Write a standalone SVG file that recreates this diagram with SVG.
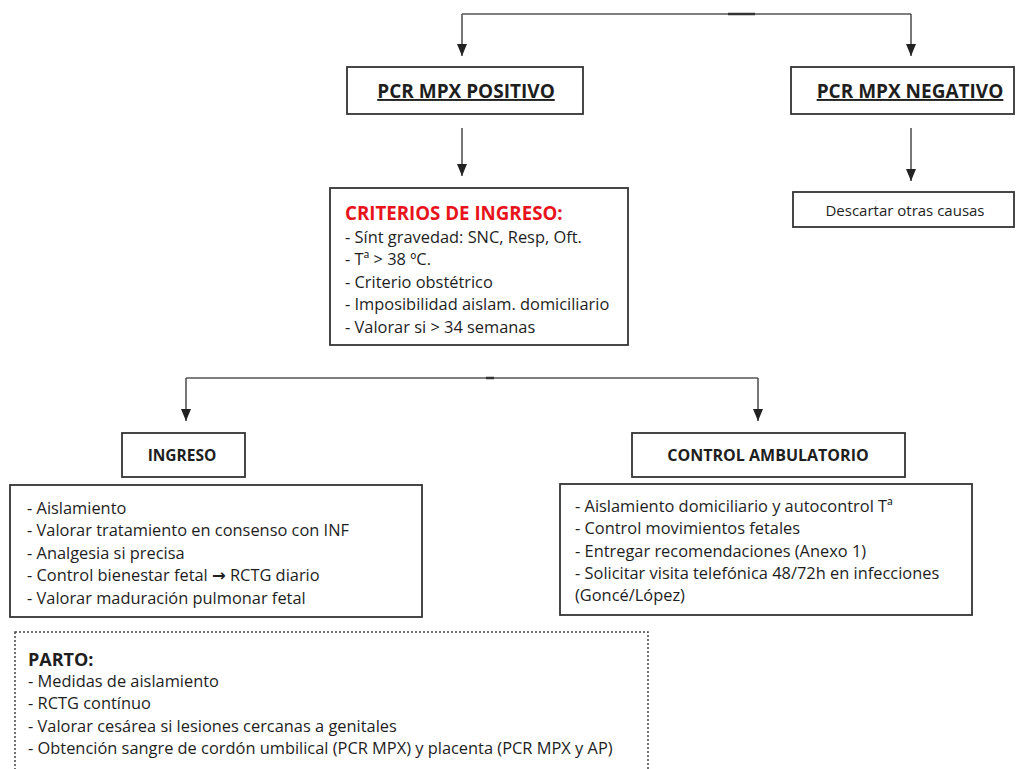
<svg xmlns="http://www.w3.org/2000/svg" width="1019" height="769" viewBox="0 0 1019 769">
<defs>
<marker id="arr" markerWidth="12" markerHeight="10" refX="12" refY="5" orient="auto" markerUnits="userSpaceOnUse" viewBox="0 0 12 10">
<path d="M0,0 L12,5 L0,10 Z" fill="#222"/>
</marker>
<style>
.box{fill:#fff;stroke:#333;stroke-width:1.8}
.dot{fill:#fff;stroke:#444;stroke-width:1.5;stroke-dasharray:2 2}
.ln{fill:none;stroke:#555;stroke-width:1.6}
.t{font-family:"Open Sans","Liberation Sans",sans-serif;font-size:16.4px;fill:#1e1e1e}
.h{font-family:"Open Sans","Liberation Sans",sans-serif;font-size:19px;font-weight:bold;fill:#1e1e1e}
.red{font-family:"Open Sans","Liberation Sans",sans-serif;font-size:18.7px;font-weight:bold;fill:#e8141c}
</style>
</defs>
<rect width="1019" height="769" fill="#fff"/>
<g id="connectors">
<path class="ln" d="M462,14 H911"/>
<path d="M728,14 H755" stroke="#333" stroke-width="2.5"/>
<path class="ln" d="M462,14 V56" marker-end="url(#arr)"/>
<path class="ln" d="M911,14 V56" marker-end="url(#arr)"/>
<path class="ln" d="M462,128 V176" marker-end="url(#arr)"/>
<path class="ln" d="M911,128 V181" marker-end="url(#arr)"/>
<path class="ln" d="M186,378 H758"/>
<path d="M486,378 H494" stroke="#333" stroke-width="2.5"/>
<path class="ln" d="M186,378 V421" marker-end="url(#arr)"/>
<path class="ln" d="M758,378 V421" marker-end="url(#arr)"/>
</g>
<g id="pcr-positivo">
<rect class="box" x="347" y="67" width="236" height="47"/>
<text class="h" x="466" y="98" text-anchor="middle" text-decoration="underline">PCR MPX POSITIVO</text>
</g>
<g id="pcr-negativo">
<rect class="box" x="791" y="67" width="223" height="47"/>
<text class="h" x="910" y="98" text-anchor="middle" text-decoration="underline">PCR MPX NEGATIVO</text>
</g>
<g id="criterios">
<rect class="box" x="330" y="188" width="298" height="157"/>
<text class="red" x="345" y="220">CRITERIOS DE INGRESO:</text>
<text class="t" x="345" y="243">- Sínt gravedad: SNC, Resp, Oft.</text>
<text class="t" x="345" y="265">- Tª &gt; 38 ºC.</text>
<text class="t" x="345" y="288">- Criterio obstétrico</text>
<text class="t" x="345" y="310">- Imposibilidad aislam. domiciliario</text>
<text class="t" x="345" y="333">- Valorar si &gt; 34 semanas</text>
</g>
<g id="descartar">
<rect class="box" x="793" y="192" width="221" height="35"/>
<text class="t" x="905" y="216" text-anchor="middle" style="font-size:15px">Descartar otras causas</text>
</g>
<g id="ingreso">
<rect class="box" x="122" y="433" width="123" height="44"/>
<text class="h" x="182" y="461" text-anchor="middle" style="font-size:15.5px">INGRESO</text>
</g>
<g id="control-ambulatorio">
<rect class="box" x="632" y="433" width="273" height="44"/>
<text class="h" x="768" y="461" text-anchor="middle" style="font-size:16px">CONTROL AMBULATORIO</text>
</g>
<g id="ingreso-list">
<rect class="box" x="10" y="485" width="412" height="132"/>
<text class="t" x="27" y="514">- Aislamiento</text>
<text class="t" x="27" y="536">- Valorar tratamiento en consenso con INF</text>
<text class="t" x="27" y="559">- Analgesia si precisa</text>
<text class="t" x="27" y="581">- Control bienestar fetal <tspan style="font-family:'DejaVu Sans',sans-serif;font-weight:bold">→</tspan> RCTG diario</text>
<text class="t" x="27" y="604">- Valorar maduración pulmonar fetal</text>
</g>
<g id="control-list">
<rect class="box" x="560" y="484" width="412" height="131"/>
<text class="t" x="575" y="512">- Aislamiento domiciliario y autocontrol Tª</text>
<text class="t" x="575" y="534">- Control movimientos fetales</text>
<text class="t" x="575" y="557">- Entregar recomendaciones (Anexo 1)</text>
<text class="t" x="575" y="579">- Solicitar visita telefónica 48/72h en infecciones</text>
<text class="t" x="575" y="601">(Goncé/López)</text>
</g>
<g id="parto">
<rect class="dot" x="15" y="632" width="633" height="150"/>
<text class="h" x="28" y="666" style="font-size:18px">PARTO:</text>
<text class="t" x="28" y="687">- Medidas de aislamiento</text>
<text class="t" x="28" y="709">- RCTG contínuo</text>
<text class="t" x="28" y="732">- Valorar cesárea si lesiones cercanas a genitales</text>
<text class="t" x="28" y="754">- Obtención sangre de cordón umbilical (PCR MPX) y placenta (PCR MPX y AP)</text>
</g>
</svg>
